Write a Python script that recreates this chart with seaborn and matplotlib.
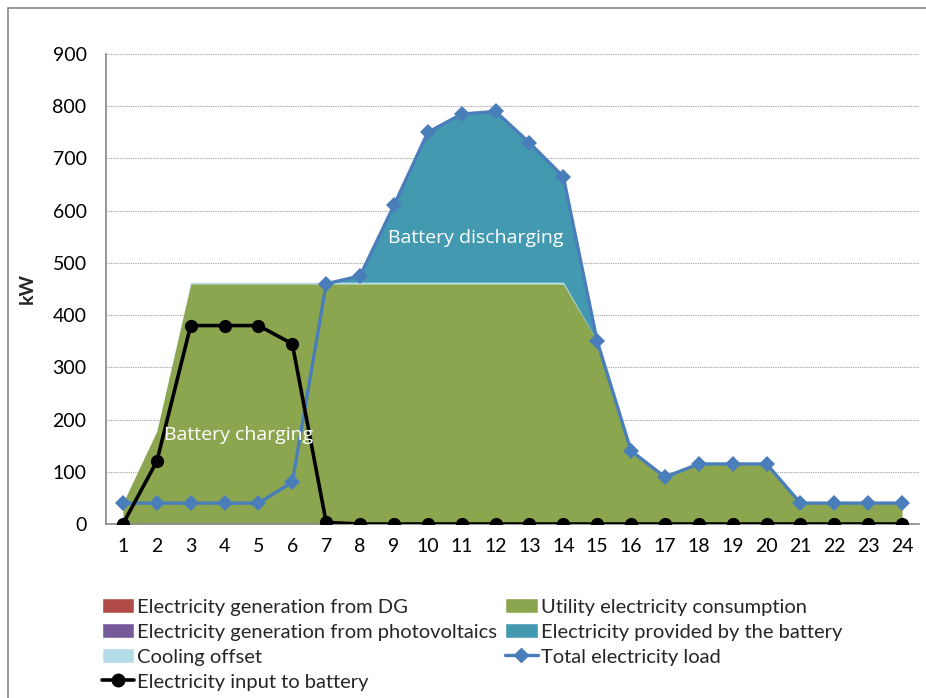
import matplotlib
matplotlib.use("Agg")
import matplotlib.pyplot as plt
import seaborn as sns
import pandas as pd
from matplotlib.patches import Patch, Rectangle
from matplotlib.lines import Line2D

hours = list(range(1, 25))
dg = [0] * 24
pv = [0] * 24
utility = [40, 178, 460, 460, 460, 460, 460, 460, 460, 460, 460, 460,
           460, 460, 350, 140, 90, 115, 115, 115, 40, 40, 40, 40]
cooling = [0, 0, 3, 3, 3, 3, 3, 3, 3, 3, 3, 3,
           3, 3, 0, 0, 0, 0, 0, 0, 0, 0, 0, 0]
battery = [0, 0, 0, 0, 0, 0, 0, 12, 147, 287, 322, 327,
           267, 202, 0, 0, 0, 0, 0, 0, 0, 0, 0, 0]
total_load = [40, 40, 40, 40, 40, 80, 460, 475, 610, 750, 785, 790,
              730, 665, 350, 140, 90, 115, 115, 115, 40, 40, 40, 40]
battery_input = [0, 120, 380, 380, 380, 345, 3, 0, 0, 0, 0, 0,
                 0, 0, 0, 0, 0, 0, 0, 0, 0, 0, 0, 0]
y_ticks = [0, 100, 200, 300, 400, 500, 600, 700, 800, 900]

labels = {
    "dg": "Electricity generation from DG",
    "utility": "Utility electricity consumption",
    "pv": "Electricity generation from photovoltaics",
    "battery": "Electricity provided by the battery",
    "cooling": "Cooling offset",
    "total": "Total electricity load",
    "input": "Electricity input to battery",
}
colors = {
    "dg": "#B14B48",
    "utility": "#8CA64F",
    "pv": "#755A9A",
    "battery": "#4299B0",
    "cooling": "#B5DDE8",
    "total": "#4A7EBB",
    "input": "#000000",
}

sns.set_style("white")
font = ["Lato", "DejaVu Sans"]
plt.rcParams["font.family"] = font

df = pd.DataFrame({"hour": hours, "total": total_load, "input": battery_input})

fig = plt.figure(figsize=(9.26, 6.98), dpi=100)
ax = fig.add_axes([106 / 926, 1 - 524 / 698, (919 - 106) / 926, (524 - 54) / 698])

ax.stackplot(hours, dg, pv, utility, cooling, battery,
             colors=[colors["dg"], colors["pv"], colors["utility"],
                     colors["cooling"], colors["battery"]],
             linewidth=0, zorder=2)

sns.lineplot(data=df, x="hour", y="total", ax=ax, color=colors["total"],
             linewidth=2.4, marker="D", markersize=8, markeredgewidth=0,
             zorder=4, legend=False)
sns.lineplot(data=df, x="hour", y="input", ax=ax, color=colors["input"],
             linewidth=2.6, marker="o", markersize=9.5, markeredgewidth=0,
             zorder=5, legend=False)

ax.set_xlim(0.5, 24.5)
ax.set_ylim(0, 900)
ax.set_xticks(hours)
ax.set_xticklabels([str(h) for h in hours])
ax.set_yticks(y_ticks)
ax.set_yticklabels([str(v) for v in y_ticks])
ax.tick_params(axis="both", length=0, labelsize=14, colors="#000000")
ax.tick_params(axis="x", pad=10)
ax.tick_params(axis="y", pad=14)
ax.set_xlabel("")
ax.set_ylabel("kW", fontsize=14, fontweight="bold", labelpad=12)

for v in y_ticks[1:]:
    ax.axhline(v, color="#A0A0A0", linewidth=0.8, linestyle=(0, (1, 1)), zorder=1)

for side in ["top", "right"]:
    ax.spines[side].set_visible(False)
for side in ["left", "bottom"]:
    ax.spines[side].set_color("#888888")
    ax.spines[side].set_linewidth(1.2)
    ax.spines[side].set_zorder(3)

ax.text(4.4, 170, "Battery charging", color="white", fontsize=14,
        ha="center", va="center", zorder=6, family=["Open Sans", "DejaVu Sans"])
ax.text(11.42, 548, "Battery discharging", color="white", fontsize=14,
        ha="center", va="center", zorder=6, family=["Open Sans", "DejaVu Sans"])

handles = [
    Patch(facecolor=colors["dg"], label=labels["dg"]),
    Patch(facecolor=colors["pv"], label=labels["pv"]),
    Patch(facecolor=colors["cooling"], label=labels["cooling"]),
    Line2D([], [], color=colors["input"], linewidth=2.6, marker="o",
           markersize=9, label=labels["input"]),
    Patch(facecolor=colors["utility"], label=labels["utility"]),
    Patch(facecolor=colors["battery"], label=labels["battery"]),
    Line2D([], [], color=colors["total"], linewidth=2.4, marker="D",
           markersize=7, label=labels["total"]),
]
fig.legend(handles=handles, loc="upper left",
           bbox_to_anchor=(102 / 926, 1 - 598 / 698), ncol=2, frameon=False,
           fontsize=14.5, handlelength=1.6, handleheight=0.8,
           handletextpad=0.15, labelspacing=0.36, columnspacing=0.4,
           borderpad=0, borderaxespad=0)

fig.patches.append(Rectangle((8 / 926, -0.02), 1.0, 1 - 8 / 698 + 0.02,
                             transform=fig.transFigure, fill=False,
                             edgecolor="#888888", linewidth=1.2))

fig.savefig("out.png", dpi=100)
